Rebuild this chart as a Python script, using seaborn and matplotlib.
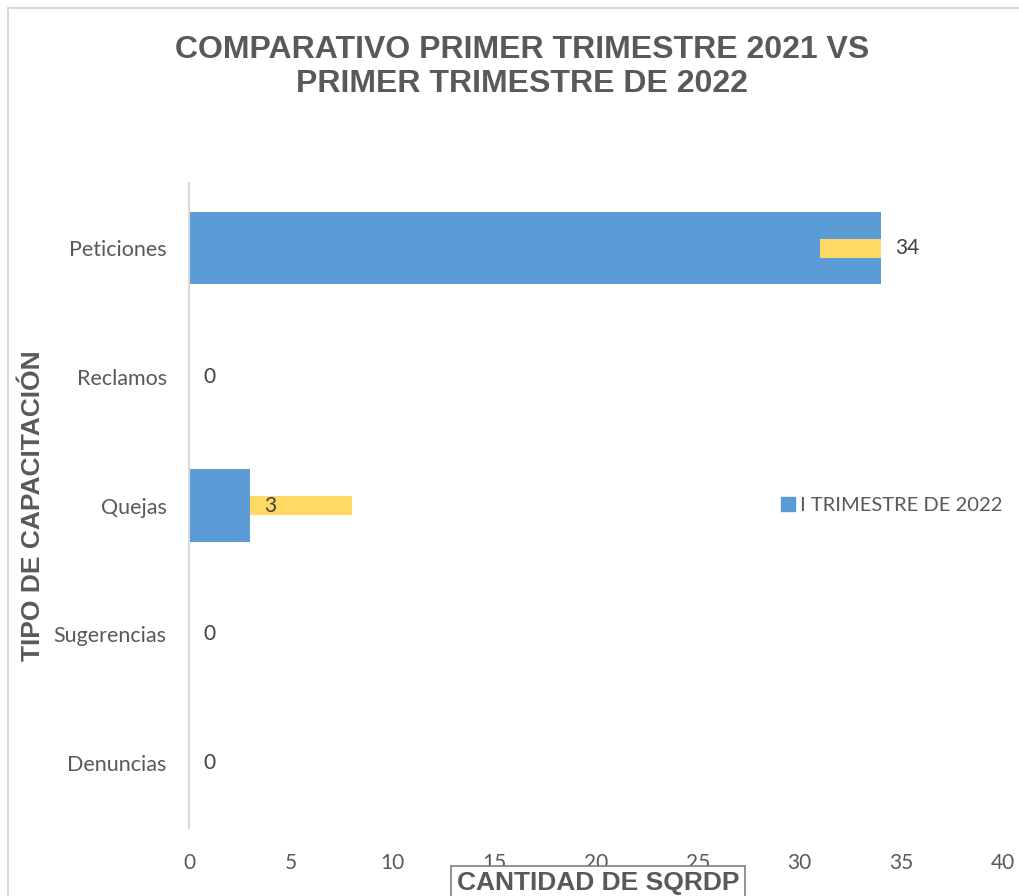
import matplotlib
matplotlib.use("Agg")
import matplotlib.pyplot as plt
import seaborn as sns
import pandas as pd
from matplotlib.lines import Line2D
from matplotlib.patches import Rectangle

categories = ["Peticiones", "Reclamos", "Quejas", "Sugerencias", "Denuncias"]
values_2022 = [34, 0, 3, 0, 0]
yellow_start = [31, 0, 3, 0, 0]
yellow_length = [3, 0, 5, 0, 0]
x_ticks = [0, 5, 10, 15, 20, 25, 30, 35, 40]

BLUE = "#5B9BD5"
YELLOW = "#FFD966"
GRAY = "#595959"

sns.set_theme(style="white")
plt.rcParams['font.family'] = ['Lato', 'DejaVu Sans']

df = pd.DataFrame({"tipo": categories, "valor": values_2022})

fig = plt.figure(figsize=(10.2, 8.96), dpi=100)
ax = fig.add_axes([189/1020, 1-828/896, (1003-189)/1020, (828-183)/896])

sns.barplot(data=df, x="valor", y="tipo", order=categories, color=BLUE,
            width=0.56, saturation=1, ax=ax, zorder=2, linewidth=0, edgecolor="none")
ax.barh(range(len(categories)), yellow_length, left=yellow_start, height=0.15,
        color=YELLOW, zorder=3, linewidth=0)

for i, v in enumerate(values_2022):
    ax.annotate(str(v), xy=(v, i), xytext=(10.5, 0), textcoords="offset points",
                ha="left", va="center", fontsize=15, color="#404040", zorder=4)

ax.set_xlim(0, 40)
ax.set_xticks(x_ticks)
ax.set_xticklabels([str(t) for t in x_ticks], fontsize=15, color=GRAY)
ax.set_yticklabels(categories, fontsize=15.5, color=GRAY)
ax.tick_params(axis="both", length=0)
ax.tick_params(axis="x", pad=18)
ax.tick_params(axis="y", pad=16)
ax.set_xlabel("")
ax.set_ylabel("")
for s in ["top", "right", "bottom"]:
    ax.spines[s].set_visible(False)
ax.spines["left"].set_color("#D9D9D9")
ax.spines["left"].set_linewidth(1.5)
ax.grid(False)

# title
fig.text(0.512, 1-67/896, "COMPARATIVO PRIMER TRIMESTRE 2021 VS\nPRIMER TRIMESTRE DE 2022",
         ha="center", va="center", fontsize=23, fontweight="bold", color=GRAY,
         family=["Liberation Sans", "DejaVu Sans"],
         linespacing=1.2)

# y label
fig.text(33/1020, 1-506/896, "TIPO DE CAPACITACIÓN", rotation=90, ha="center", va="center",
         fontsize=19, fontweight="bold", color=GRAY,
         family=["Liberation Sans", "DejaVu Sans"])

# x label with box
fig.text(598/1020, 1-883/896, "CANTIDAD DE SQRDP", ha="center", va="center",
         fontsize=19, fontweight="bold", color=GRAY,
         family=["Liberation Sans", "DejaVu Sans"],
         bbox=dict(boxstyle="square,pad=0.2", facecolor="white", edgecolor="#7F7F7F", linewidth=1.2))

# legend
handle = Line2D([0], [0], marker="s", linestyle="none", markersize=10,
                markerfacecolor=BLUE, markeredgecolor=BLUE)
fig.legend([handle], ["I TRIMESTRE DE 2022"], loc="center left",
           bbox_to_anchor=(760/1020, 1-505/896), frameon=False,
           fontsize=14.5, labelcolor=GRAY, handletextpad=0.1, handlelength=1.0)

# chart border
fig.patches.append(Rectangle((8/1020, -0.1), 1.2, 1-8/896+0.1, transform=fig.transFigure,
                             fill=False, edgecolor="#D9D9D9", linewidth=1.5))

fig.savefig("out.png", dpi=100, facecolor="white")
